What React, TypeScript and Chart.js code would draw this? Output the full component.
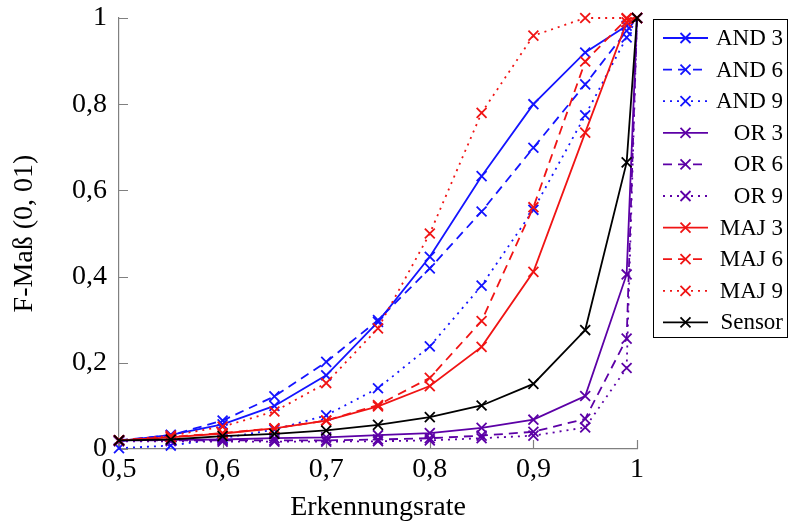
import React, { useEffect, useRef } from "react";
import { Chart, registerables } from "chart.js";

Chart.register(...registerables);

const xValues = [0.5, 0.55, 0.6, 0.65, 0.7, 0.75, 0.8, 0.85, 0.9, 0.95, 0.99, 1.0];
const and3 = [0.018, 0.033, 0.057, 0.1, 0.171, 0.295, 0.446, 0.633, 0.8, 0.92, 0.982, 1];
const and6 = [0.02, 0.032, 0.066, 0.122, 0.202, 0.299, 0.419, 0.551, 0.699, 0.846, 0.97, 1];
const and9 = [0.002, 0.008, 0.025, 0.045, 0.078, 0.141, 0.238, 0.379, 0.555, 0.774, 0.955, 1];
const or3 = [0.02, 0.021, 0.022, 0.025, 0.027, 0.032, 0.037, 0.049, 0.068, 0.123, 0.405, 1];
const or6 = [0.02, 0.02, 0.02, 0.02, 0.02, 0.022, 0.025, 0.031, 0.04, 0.07, 0.256, 1];
const or9 = [0.018, 0.018, 0.017, 0.017, 0.017, 0.018, 0.02, 0.025, 0.031, 0.05, 0.188, 1];
const maj3 = [0.02, 0.027, 0.036, 0.048, 0.066, 0.099, 0.146, 0.237, 0.411, 0.734, 0.99, 1];
const maj6 = [0.02, 0.028, 0.037, 0.048, 0.066, 0.102, 0.165, 0.297, 0.561, 0.899, 0.998, 1];
const maj9 = [0.02, 0.031, 0.052, 0.087, 0.153, 0.28, 0.5, 0.78, 0.959, 1.0, 1.0, 1];
const sensor = [0.02, 0.022, 0.03, 0.035, 0.043, 0.056, 0.074, 0.101, 0.151, 0.276, 0.665, 1];

const seriesLabels = ["AND 3", "AND 6", "AND 9", "OR 3", "OR 6", "OR 9", "MAJ 3", "MAJ 6", "MAJ 9", "Sensor"];
const seriesValues = [and3, and6, and9, or3, or6, or9, maj3, maj6, maj9, sensor];

const xTickValues = [0.5, 0.6, 0.7, 0.8, 0.9, 1];
const yTickValues = [0, 0.2, 0.4, 0.6, 0.8, 1];

const BLUE = "#1414ff";
const PURPLE = "#5c00a6";
const RED = "#f01414";
const BLACK = "#000000";
const SOLID: number[] = [];
const DASHED = [9, 6];
const DOTTED = [2, 5];

const seriesColors = [BLUE, BLUE, BLUE, PURPLE, PURPLE, PURPLE, RED, RED, RED, BLACK];
const seriesDashes = [SOLID, DASHED, DOTTED, SOLID, DASHED, DOTTED, SOLID, DASHED, DOTTED, SOLID];

const FONT = "'Liberation Serif', 'DejaVu Serif', serif";

const fmt = (v: number) => (v === 0 ? "0" : v === 1 ? "1" : v.toFixed(1).replace(".", ","));

function drawCross(ctx: CanvasRenderingContext2D, x: number, y: number, h: number) {
  ctx.beginPath();
  ctx.moveTo(x - h, y - h);
  ctx.lineTo(x + h, y + h);
  ctx.moveTo(x - h, y + h);
  ctx.lineTo(x + h, y - h);
  ctx.stroke();
}

const decorPlugin = {
  id: "decor",
  beforeDatasetsDraw(chart: any) {
    const ctx: CanvasRenderingContext2D = chart.ctx;
    const xs = chart.scales.x;
    const ys = chart.scales.y;
    const { left, bottom } = chart.chartArea;
    ctx.save();
    ctx.strokeStyle = "#808080";
    ctx.lineWidth = 1.2;
    ctx.beginPath();
    xTickValues.forEach((v) => {
      const px = Math.round(xs.getPixelForValue(v)) + 0.5;
      ctx.moveTo(px, bottom);
      ctx.lineTo(px, bottom - 9);
    });
    yTickValues.forEach((v) => {
      const py = Math.round(ys.getPixelForValue(v)) + 0.5;
      ctx.moveTo(left, py);
      ctx.lineTo(left + 9, py);
    });
    ctx.stroke();
    ctx.restore();
  },
  afterDraw(chart: any) {
    const ctx: CanvasRenderingContext2D = chart.ctx;
    ctx.save();
    const bx = 653.5;
    const by = 19.5;
    const bw = 134;
    const bh = 318;
    ctx.fillStyle = "#ffffff";
    ctx.fillRect(bx, by, bw, bh);
    ctx.strokeStyle = "#000000";
    ctx.lineWidth = 1;
    ctx.setLineDash([]);
    ctx.strokeRect(bx, by, bw, bh);
    ctx.font = `23px ${FONT}`;
    ctx.textAlign = "right";
    ctx.textBaseline = "middle";
    seriesLabels.forEach((label, i) => {
      const y = 38 + i * 31.6;
      ctx.strokeStyle = seriesColors[i];
      ctx.lineWidth = 1.8;
      ctx.setLineDash(seriesDashes[i]);
      ctx.beginPath();
      ctx.moveTo(663, y);
      ctx.lineTo(708, y);
      ctx.stroke();
      ctx.setLineDash([]);
      drawCross(ctx, 685.5, y, 5);
      ctx.fillStyle = "#000000";
      ctx.fillText(label, 783, y + 1);
    });
    ctx.restore();
  },
};

export default function App() {
  const canvasRef = useRef<HTMLCanvasElement | null>(null);

  useEffect(() => {
    if (!canvasRef.current) return;
    Chart.defaults.font.family = FONT;
    const datasets = seriesLabels.map((label, i) => ({
      label,
      data: xValues.map((x, j) => ({ x, y: seriesValues[i][j] })),
      borderColor: seriesColors[i],
      backgroundColor: seriesColors[i],
      borderWidth: 1.8,
      borderDash: seriesDashes[i],
      pointStyle: "crossRot" as const,
      pointRadius: 7,
      pointBorderWidth: 1.8,
      pointBorderColor: seriesColors[i],
      fill: false,
      tension: 0,
      clip: false as const,
      order: seriesLabels.length - i,
    }));

    const chart = new Chart(canvasRef.current, {
      type: "line",
      data: { datasets },
      options: {
        animation: false,
        responsive: false,
        devicePixelRatio: 1,
        layout: { padding: { left: 0, right: 151, top: 18, bottom: 0 } },
        plugins: {
          legend: { display: false },
          tooltip: { enabled: false },
        },
        scales: {
          x: {
            type: "linear",
            min: 0.5,
            max: 1,
            afterBuildTicks: (scale: any) => {
              scale.ticks = xTickValues.map((v) => ({ value: v }));
            },
            afterFit: (scale: any) => {
              scale.height = 79;
              scale.paddingLeft = 0;
              scale.paddingRight = 0;
            },
            grid: { display: false, drawTicks: false, drawOnChartArea: false },
            border: { display: true, color: "#808080", width: 1.2 },
            ticks: {
              color: "#000000",
              font: { size: 28, family: FONT },
              padding: 4,
              maxRotation: 0,
              autoSkip: false,
              callback: (v: any) => fmt(Number(v)),
            },
            title: {
              display: true,
              text: "Erkennungsrate",
              color: "#000000",
              font: { size: 28, family: FONT },
              padding: { top: 0, bottom: 4 },
            },
          },
          y: {
            type: "linear",
            min: 0,
            max: 1,
            afterBuildTicks: (scale: any) => {
              scale.ticks = yTickValues.map((v) => ({ value: v }));
            },
            afterFit: (scale: any) => {
              scale.width = 119;
              scale.paddingTop = 0;
              scale.paddingBottom = 0;
            },
            grid: { display: false, drawTicks: false, drawOnChartArea: false },
            border: { display: true, color: "#808080", width: 1.2 },
            ticks: {
              color: "#000000",
              font: { size: 28, family: FONT },
              padding: 12,
              autoSkip: false,
              callback: (v: any) => fmt(Number(v)),
            },
            title: {
              display: true,
              text: "F-Maß (0, 01)",
              color: "#000000",
              font: { size: 28, family: FONT },
              padding: { top: 8, bottom: 0 },
            },
          },
        },
      },
      plugins: [decorPlugin],
    });
    return () => chart.destroy();
  }, []);

  return (
    <div style={{ position: "fixed", left: 0, top: 0, width: 788, height: 528, background: "#ffffff" }}>
      <canvas ref={canvasRef} width={788} height={528} style={{ width: 788, height: 528, display: "block" }} />
    </div>
  );
}
